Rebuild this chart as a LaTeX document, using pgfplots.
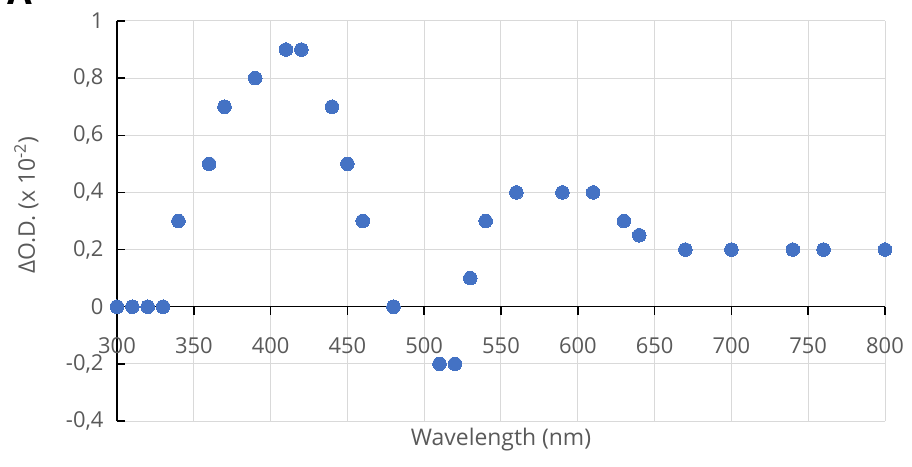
\documentclass[border=0pt]{standalone}
\usepackage{fontspec}
\setmainfont{Open Sans}
\usepackage{pgfplots}
\pgfplotsset{compat=1.18}
\definecolor{dotblue}{HTML}{4472C4}
\definecolor{txtgray}{HTML}{595959}
\definecolor{gridgray}{HTML}{D9D9D9}
\begin{document}
\begin{tikzpicture}
\begin{axis}[
  at={(0,0)}, anchor=south west, name=ax,
  scale only axis, width=768bp, height=400bp,
  xmin=300, xmax=800, ymin=-0.4, ymax=1,
  axis x line=middle, axis y line=left,
  axis line style={-, black, line width=1.5bp},
  xtick={300,350,...,800},
  ytick={-0.4,-0.2,0,0.2,0.4,0.6,0.8,1},
  hide obscured x ticks=false,
  hide obscured y ticks=false,
  grid=major, major grid style={gridgray, line width=1bp},
  tick style={black, line width=1.5bp},
  major tick length=8bp,
  tick align=inside,
  x tick style={yshift=-8bp},
  clip=false,
  /pgf/number format/.cd, use comma, assume math mode=true, /pgfplots/.cd,
  ticklabel style={font=\fontsize{22}{24}\selectfont, text=txtgray},
  xticklabel style={anchor=north, yshift=-27bp},
  yticklabel style={anchor=east, xshift=-10bp},
  xlabel={Wavelength (nm)},
  xlabel style={at={(axis description cs:0.5,0)}, anchor=north, yshift=-4bp, font=\fontsize{23}{26}\selectfont, text=txtgray},
  ylabel={ΔO.D. (x 10\textsuperscript{-2})},
  ylabel style={at={(axis description cs:-0.118,0.54)}, anchor=center, rotate=0, font=\fontsize{23}{26}\selectfont, text=txtgray},
]
\addplot[only marks, mark=*, mark size=6.8bp, mark options={fill=dotblue, draw=dotblue, line width=0pt}] coordinates {
(300,0) (310,0) (320,0) (330,0) (340,0.3) (360,0.5) (370,0.7) (390,0.8)
(410,0.9) (420,0.9) (440,0.7) (450,0.5) (460,0.3) (480,0) (510,-0.2)
(520,-0.2) (530,0.1) (540,0.3) (560,0.4) (590,0.4) (610,0.4) (630,0.3)
(640,0.25) (670,0.2) (700,0.2) (740,0.2) (760,0.2) (800,0.2)
};
\end{axis}
\node[anchor=base, font=\bfseries\fontsize{36}{36}\selectfont] at (-97bp,416bp) {A};
\pgfresetboundingbox
\path (-117bp,-46bp) rectangle (795bp,421bp);
\end{tikzpicture}
\end{document}
